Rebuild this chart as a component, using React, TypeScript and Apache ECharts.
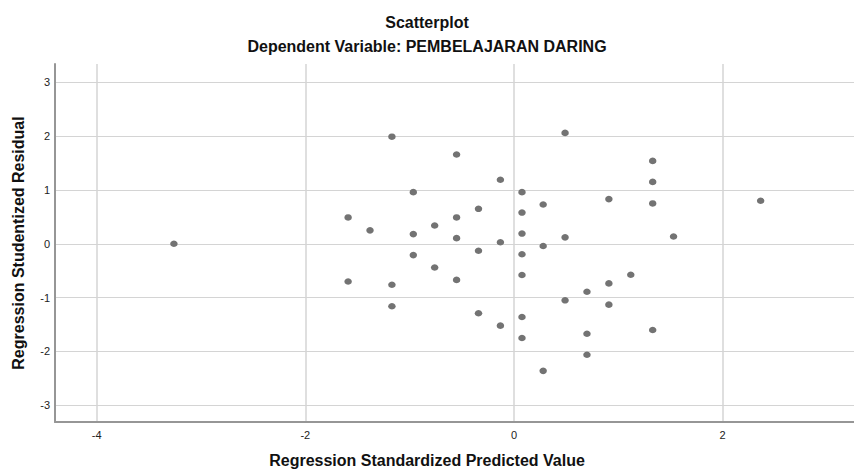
import React, { useEffect, useRef } from "react";
import * as echarts from "echarts";

const titleText = "Scatterplot";
const subtitleText = "Dependent Variable: PEMBELAJARAN DARING";
const xAxisName = "Regression Standardized Predicted Value";
const yAxisName = "Regression Studentized Residual";

// Regression Standardized Predicted Value
const predicted = [
  -3.26, -1.59, -1.59, -1.38, -1.17, -1.17, -1.17, -0.965, -0.965, -0.965,
  -0.76, -0.76, -0.55, -0.55, -0.55, -0.55, -0.34, -0.34, -0.34, -0.13,
  -0.13, -0.13, 0.077, 0.077, 0.077, 0.077, 0.077, 0.077, 0.077, 0.28,
  0.28, 0.28, 0.49, 0.49, 0.49, 0.7, 0.7, 0.7, 0.91, 0.91,
  0.91, 1.12, 1.33, 1.33, 1.33, 1.33, 1.53, 2.365,
];
// Regression Studentized Residual
const residual = [
  0.0, 0.49, -0.7, 0.25, 1.99, -0.76, -1.16, 0.96, 0.18, -0.21,
  0.34, -0.44, 1.66, 0.49, 0.105, -0.67, 0.65, -0.13, -1.29, 1.19,
  0.03, -1.52, 0.96, 0.58, 0.19, -0.195, -0.58, -1.36, -1.75, 0.73,
  -0.04, -2.36, 2.06, 0.12, -1.05, -0.89, -1.67, -2.06, 0.83, -0.735,
  -1.13, -0.575, 1.54, 1.15, 0.75, -1.6, 0.135, 0.8,
];

const xMin = -4.4;
const xMax = 3.26;
const yMin = -3.31;
const yMax = 3.34;

export default function App() {
  const ref = useRef<HTMLDivElement>(null);
  useEffect(() => {
    if (!ref.current) return;
    const chart = echarts.init(ref.current, null, { renderer: "svg" });
    const points = predicted.map((x, i) => [x, residual[i]]);
    const font = "'Liberation Sans', Arial, sans-serif";
    const titleStyle = { fontFamily: font, fontSize: 16, fontWeight: "bold", color: "#111" };
    chart.setOption({
      animation: false,
      backgroundColor: "#ffffff",
      title: [
        { text: titleText, left: "center", top: 14, padding: 0, textStyle: titleStyle },
        { text: subtitleText, left: "center", top: 38, padding: 0, textStyle: titleStyle },
      ],
      grid: { left: 55, top: 64, right: 0, bottom: 47, containLabel: false },
      xAxis: {
        type: "value",
        min: xMin,
        max: xMax,
        splitNumber: 4,
        name: xAxisName,
        nameLocation: "middle",
        nameGap: 30,
        nameTextStyle: { ...titleStyle, padding: [0, 55, 0, 0] },
        axisLine: { show: true, onZero: false, lineStyle: { color: "#969696", width: 2 } },
        axisTick: { show: false },
        axisLabel: {
          margin: 7,
          showMinLabel: false,
          showMaxLabel: false,
          fontFamily: font,
          fontSize: 11,
          color: "#222",
        },
        splitLine: {
          show: true,
          showMinLine: false,
          showMaxLine: false,
          lineStyle: { color: "#d4d4d4", width: 1.5 },
        },
      },
      yAxis: {
        type: "value",
        min: yMin,
        max: yMax,
        splitNumber: 6,
        name: yAxisName,
        nameLocation: "middle",
        nameRotate: 90,
        nameGap: 29,
        nameTextStyle: titleStyle,
        axisLine: { show: true, onZero: false, lineStyle: { color: "#969696", width: 2 } },
        axisTick: { show: false },
        axisLabel: {
          margin: 5,
          showMinLabel: false,
          showMaxLabel: false,
          fontFamily: font,
          fontSize: 11,
          color: "#222",
        },
        splitLine: {
          show: true,
          showMinLine: false,
          showMaxLine: false,
          lineStyle: { color: "#d4d4d4", width: 1 },
        },
      },
      series: [
        {
          type: "scatter",
          data: points,
          symbol: "circle",
          symbolSize: [7.5, 6.5],
          itemStyle: { color: "#737373", opacity: 1 },
          emphasis: { disabled: true },
        },
      ],
    });
    return () => chart.dispose();
  }, []);
  return (
    <div
      ref={ref}
      style={{ position: "fixed", left: 0, top: 0, width: 854, height: 473 }}
    />
  );
}
